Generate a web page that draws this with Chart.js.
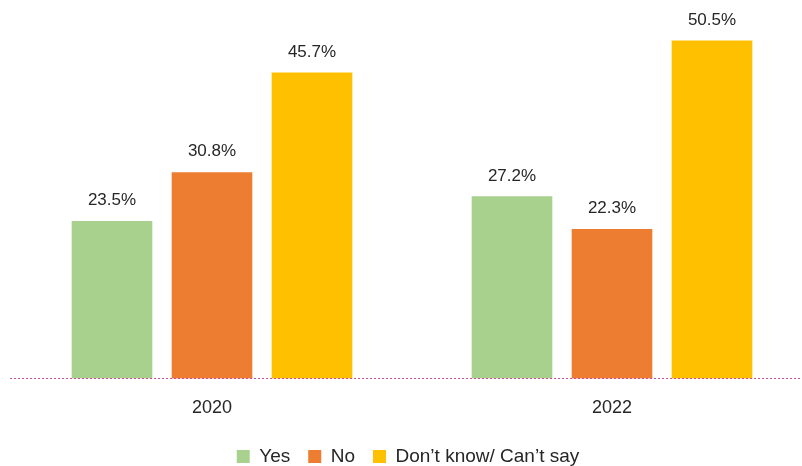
<!DOCTYPE html>
<html>
<head>
<meta charset="utf-8">
<script src="https://cdn.jsdelivr.net/npm/chart.js@4/dist/chart.umd.min.js"></script>
<style>
    html, body { margin: 0; padding: 0; background: #fff; overflow: hidden; }
    #wrap { width: 812px; height: 466px; position: relative; }
</style>
</head>
<body>
<div id="wrap"><canvas id="chart"></canvas></div>
<script>
/* ---------- 資料 ---------- */
const years = ["2020", "2022"];
const seriesNames = ["Yes", "No", "Don\u2019t know/ Can\u2019t say"];
const yesValues = [23.5, 27.2];
const noValues = [30.8, 22.3];
const dontKnowValues = [45.7, 50.5];

const colors = ["#a9d18e", "#ed7d31", "#ffc000"];
const textColor = "#262626";
const fontFamily = "'Liberation Sans', Arial, sans-serif";

/* ---------- 數值標籤 + 虛線基準線 ---------- */
const valueLabels = {
    id: "valueLabels",
    afterLayout(chart) {
        // legend sits a little left of centre in the original
        chart.legend.left -= 4;
        chart.legend.right -= 4;
    },
    afterDatasetsDraw(chart) {
        const ctx = chart.ctx;
        ctx.save();
        ctx.font = "17px " + fontFamily;
        ctx.fillStyle = textColor;
        ctx.textAlign = "center";
        ctx.textBaseline = "alphabetic";
        chart.data.datasets.forEach((ds, i) => {
            chart.getDatasetMeta(i).data.forEach((bar, j) => {
                ctx.fillText(ds.data[j].toFixed(1) + "%", bar.x, bar.y - 16);
            });
        });

        // baseline
        const y = Math.round(chart.scales.y.getPixelForValue(0)) + 0.5;
        ctx.strokeStyle = "#c8509a";
        ctx.lineWidth = 1;
        ctx.setLineDash([2, 2]);
        ctx.beginPath();
        ctx.moveTo(10, y);
        ctx.lineTo(800, y);
        ctx.stroke();
        ctx.restore();
    }
};

const datasets = [yesValues, noValues, dontKnowValues].map((vals, i) => ({
    label: seriesNames[i],
    data: vals,
    backgroundColor: colors[i],
    borderWidth: 0,
    barThickness: 100,
    maxBarThickness: 80
}));

new Chart(document.getElementById("chart"), {
    type: "bar",
    data: { labels: years, datasets },
    plugins: [valueLabels],
    options: {
        responsive: true,
        maintainAspectRatio: false,
        animation: false,
        layout: { padding: { left: 12, right: 0, top: 0, bottom: -10 } },
        plugins: {
            tooltip: { enabled: false },
            legend: {
                position: "bottom",
                labels: {
                    boxWidth: 13,
                    boxHeight: 13,
                    padding: 18,
                    color: textColor,
                    font: { family: fontFamily, size: 19 }
                }
            }
        },
        scales: {
            x: {
                grid: { display: false, drawTicks: false },
                border: { display: false },
                ticks: {
                    color: textColor,
                    padding: 19,
                    font: { family: fontFamily, size: 18 }
                },
                afterFit(scale) {
                    scale.height -= 9;
                }
            },
            y: {
                display: false,
                min: 0,
                max: 56.6
            }
        }
    }
});
</script>
</body>
</html>
